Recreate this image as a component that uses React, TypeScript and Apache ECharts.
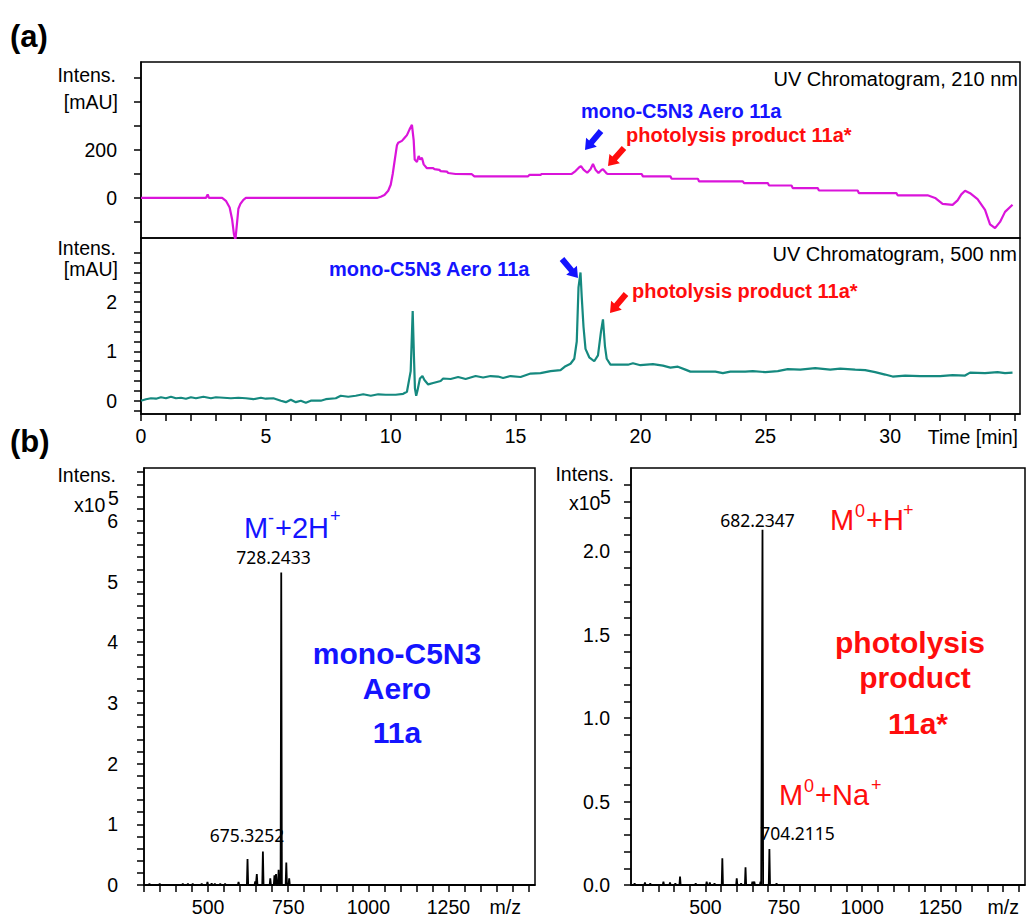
import React, { useEffect, useRef } from 'react';
import * as echarts from 'echarts';

const FONT = '"Liberation Sans", Arial, Helvetica, sans-serif';
const PEAKFONT = '"Noto Sans", "Open Sans", sans-serif';
const BLUE = '#1414ff';
const RED = '#ff0d0d';
const MAGENTA = '#da14da';
const TEAL = '#15897f';

// ---- UV chromatogram, 210 nm (time [min], intensity [mAU]) ----
const t210 = [0, 2.6, 2.67, 2.72, 3.25, 3.4, 3.55, 3.65, 3.72, 3.78, 3.84, 3.9, 3.98, 4.1, 4.2, 9.45, 9.6, 9.75, 9.9, 10.0, 10.08, 10.15, 10.25, 10.3, 10.45, 10.55, 10.65, 10.75, 10.85, 10.92, 10.96, 11.05, 11.12, 11.18, 11.25, 11.32, 11.45, 11.7, 11.75, 11.95, 12.0, 12.25, 12.3, 12.6, 13.25, 13.35, 15.5, 15.55, 16.0, 16.05, 17.25, 17.4, 17.55, 17.62, 17.72, 17.87, 18.0, 18.1, 18.2, 18.32, 18.45, 18.5, 18.65, 18.7, 20.05, 20.1, 21.2, 21.25, 22.3, 22.35, 24.1, 24.15, 25.1, 25.15, 26.05, 26.1, 27.1, 27.15, 28.7, 28.75, 30.25, 30.3, 31.5, 31.8, 32.1, 32.5, 32.7, 32.85, 33.0, 33.2, 33.5, 33.8, 34.0, 34.2, 34.4, 34.6, 34.9];
const v210 = [0, 0, 15, 0, 0, -12, -40, -90, -150, -175, -110, -45, -25, -8, 0, 0, 5, 12, 30, 55, 100, 150, 220, 230, 238, 250, 262, 285, 305, 240, 160, 150, 175, 160, 168, 140, 124, 124, 120, 117, 112, 110, 104, 100, 99, 90, 90, 96, 96, 100, 100, 112, 128, 133, 118, 105, 120, 142, 118, 104, 118, 120, 102, 100, 100, 90, 90, 80, 80, 69, 69, 62, 62, 52, 52, 41, 41, 31, 31, 20, 20, 11, 11, 0, -25, -29, -10, 15, 30, 20, -5, -50, -110, -126, -100, -58, -28];

// ---- UV chromatogram, 500 nm ----
const t500 = [0, 0.2, 0.4, 0.6, 0.8, 1.0, 1.2, 1.4, 1.6, 1.8, 2.0, 2.2, 2.5, 2.8, 3.0, 3.3, 3.6, 3.9, 4.2, 4.5, 4.8, 5.0, 5.3, 5.6, 5.8, 6.0, 6.2, 6.4, 6.6, 6.8, 7.2, 7.4, 7.8, 8.0, 8.3, 8.6, 8.9, 9.2, 9.5, 9.8, 10.2, 10.5, 10.65, 10.8, 10.88, 10.93, 10.97, 11.02, 11.07, 11.17, 11.27, 11.35, 11.5, 11.7, 12.0, 12.1, 12.4, 12.7, 13.0, 13.4, 13.7, 14.0, 14.3, 14.5, 14.8, 15.2, 15.6, 16.0, 16.4, 16.8, 17.0, 17.2, 17.35, 17.45, 17.52, 17.6, 17.65, 17.72, 17.8, 17.95, 18.15, 18.3, 18.42, 18.5, 18.58, 18.65, 18.8, 19.5, 19.7, 20.0, 20.5, 20.9, 21.2, 21.5, 21.8, 22.0, 23.0, 23.3, 23.6, 24.2, 24.5, 25.0, 25.5, 25.9, 26.4, 27.0, 27.6, 28.0, 28.6, 29.0, 29.4, 29.8, 30.1, 30.6, 31.2, 32.0, 32.5, 33.0, 33.2, 33.8, 34.3, 34.6, 34.9];
const v500 = [0.0, 0.03, 0.05, 0.04, 0.07, 0.05, 0.08, 0.05, 0.06, 0.04, 0.07, 0.05, 0.08, 0.05, 0.07, 0.06, 0.05, 0.06, 0.05, 0.03, 0.06, 0.04, 0.05, 0.0, -0.03, 0.02, -0.03, 0.0, -0.04, 0.0, 0.0, 0.03, 0.05, 0.1, 0.08, 0.1, 0.13, 0.1, 0.13, 0.12, 0.12, 0.14, 0.18, 0.6, 1.82, 0.9, 0.25, 0.1, 0.2, 0.45, 0.5, 0.42, 0.33, 0.36, 0.4, 0.45, 0.44, 0.48, 0.44, 0.5, 0.47, 0.5, 0.49, 0.46, 0.5, 0.48, 0.55, 0.56, 0.6, 0.62, 0.7, 0.75, 0.85, 1.2, 2.3, 2.6, 2.1, 1.5, 1.05, 0.88, 0.8, 0.92, 1.4, 1.65, 1.1, 0.85, 0.73, 0.73, 0.76, 0.72, 0.74, 0.71, 0.67, 0.69, 0.63, 0.59, 0.59, 0.56, 0.59, 0.59, 0.6, 0.58, 0.6, 0.64, 0.63, 0.66, 0.63, 0.65, 0.63, 0.62, 0.58, 0.53, 0.49, 0.51, 0.5, 0.5, 0.52, 0.51, 0.57, 0.56, 0.58, 0.56, 0.57];

// ---- Mass spectrum, mono-C5N3 Aero 11a (m/z, intensity x10^5) ----
const msA_mz = [317, 349, 421, 437, 452, 480, 498, 511, 521, 538, 553, 595, 623, 647, 652, 671, 694, 707, 712, 720, 728.2, 744, 753];
const msA_int = [0.02, 0.02, 0.02, 0.02, 0.02, 0.02, 0.05, 0.03, 0.02, 0.02, 0.02, 0.05, 0.43, 0.06, 0.18, 0.55, 0.11, 0.16, 0.18, 0.25, 5.15, 0.37, 0.11];

// ---- Mass spectrum, photolysis product 11a* ----
const msB_mz = [274, 307, 324, 366, 387, 404, 419, 469, 504, 514, 529, 554, 600, 614, 628, 650, 656, 676, 682.2, 704.2, 727];
const msB_int = [0.01, 0.015, 0.01, 0.02, 0.015, 0.01, 0.05, 0.01, 0.02, 0.015, 0.01, 0.16, 0.04, 0.01, 0.106, 0.02, 0.02, 0.02, 2.13, 0.216, 0.01];

// ---- axis ticks / labels ----
const timeTicks = Array.from({ length: 36 }, (_, i) => i);
const timeLabels = [0, 5, 10, 15, 20, 25, 30];
const uv210Ticks = [-100, 0, 100, 200, 300, 400, 500];
const uv210Labels = [0, 200];
const uv500Ticks = [-0.2, 0, 0.2, 0.4, 0.6, 0.8, 1, 1.2, 1.4, 1.6, 1.8, 2, 2.2, 2.4, 2.6, 2.8, 3];
const uv500Labels = [0, 1, 2];
const mzTicks = Array.from({ length: 25 }, (_, i) => 300 + i * 50);
const mzLabels = [500, 750, 1000, 1250];
const msATicks = Array.from({ length: 35 }, (_, i) => i / 5);
const msALabels = [0, 1, 2, 3, 4, 5, 6];
const msBTicks = Array.from({ length: 25 }, (_, i) => i / 10);
const msBLabels = [0, 0.5, 1, 1.5, 2];

function zipXY(xs: number[], ys: number[]) {
  return xs.map((x, i) => [x, ys[i]]);
}

function sticks(mz: number[], inten: number[], lo: number, hi: number) {
  const pts: number[][] = [[lo, 0]];
  mz.forEach((m, i) => {
    pts.push([m - 2, 0], [m, inten[i]], [m + 2, 0]);
  });
  pts.push([hi, 0]);
  return pts;
}

function txt(x: number, y: number, text: string, o: any = {}) {
  const align = o.align || 'left';
  return {
    type: 'text',
    x,
    y,
    silent: true,
    z: 100,
    style: {
      text,
      fill: o.color || '#000',
      fontSize: o.size || 19.5,
      fontWeight: o.weight || 'normal',
      fontFamily: o.family || FONT,
      align,
      textAlign: align,
      verticalAlign: 'middle',
      textVerticalAlign: 'middle',
    },
  };
}

function arrow(sx: number, sy: number, tx: number, ty: number, color: string) {
  const dx = tx - sx;
  const dy = ty - sy;
  const L = Math.sqrt(dx * dx + dy * dy);
  const ux = dx / L;
  const uy = dy / L;
  const nx = -uy;
  const ny = ux;
  const hl = 10;
  const hw = 7;
  const sw = 3;
  const bx = tx - ux * hl;
  const by = ty - uy * hl;
  return {
    type: 'polygon',
    silent: true,
    z: 100,
    shape: {
      points: [
        [sx + nx * sw, sy + ny * sw],
        [bx + nx * sw, by + ny * sw],
        [bx + nx * hw, by + ny * hw],
        [tx, ty],
        [bx - nx * hw, by - ny * hw],
        [bx - nx * sw, by - ny * sw],
        [sx - nx * sw, sy - ny * sw],
      ],
    },
    style: { fill: color },
  };
}

const lineStyleAxis = { color: '#000', width: 1.5 };

function xAxisDef(grid: number, min: number, max: number, ticks: number[], labels: number[], fmt?: (v: number) => string) {
  return {
    type: 'value',
    gridIndex: grid,
    min,
    max,
    axisLine: { show: true, onZero: false, lineStyle: lineStyleAxis },
    axisTick: { show: true, length: 7, customValues: ticks, lineStyle: lineStyleAxis },
    axisLabel: {
      show: true,
      customValues: labels,
      color: '#000',
      fontSize: 19.5,
      fontFamily: FONT,
      margin: 12,
      formatter: fmt || ((v: number) => String(v)),
    },
    splitLine: { show: false },
  };
}

function yAxisDef(grid: number, min: number, max: number, ticks: number[], labels: number[], margin: number, fmt?: (v: number) => string) {
  return {
    type: 'value',
    gridIndex: grid,
    min,
    max,
    axisLine: { show: true, onZero: false, lineStyle: lineStyleAxis },
    axisTick: { show: true, length: 7, customValues: ticks, lineStyle: lineStyleAxis },
    axisLabel: {
      show: true,
      customValues: labels,
      color: '#000',
      fontSize: 19.5,
      fontFamily: FONT,
      margin,
      formatter: fmt || ((v: number) => String(v)),
    },
    splitLine: { show: false },
  };
}

const gridBase = { show: true, borderColor: '#000', borderWidth: 1.5, backgroundColor: 'transparent', containLabel: false };

export default function App() {
  const ref = useRef<HTMLDivElement>(null);

  useEffect(() => {
    if (!ref.current) return;
    const chart = echarts.init(ref.current, undefined, { renderer: 'svg' });

    const graphic: any[] = [
      txt(10, 36, '(a)', { size: 31, weight: 'bold' }),
      txt(10, 441, '(b)', { size: 31, weight: 'bold' }),
      txt(1018, 79, 'UV Chromatogram, 210 nm', { align: 'right', size: 20 }),
      txt(1017, 254, 'UV Chromatogram, 500 nm', { align: 'right', size: 20 }),
      txt(116, 75, 'Intens.', { align: 'right' }),
      txt(118, 102, '[mAU]', { align: 'right' }),
      txt(116, 248, 'Intens.', { align: 'right' }),
      txt(118, 269, '[mAU]', { align: 'right' }),
      txt(1018, 437, 'Time [min]', { align: 'right' }),
      txt(581, 111, 'mono-C5N3 Aero 11a', { color: BLUE, size: 20, weight: 'bold' }),
      txt(626, 135, 'photolysis product 11a*', { color: RED, size: 20, weight: 'bold' }),
      txt(329, 269, 'mono-C5N3 Aero 11a', { color: BLUE, size: 20, weight: 'bold' }),
      txt(632, 291, 'photolysis product 11a*', { color: RED, size: 20, weight: 'bold' }),
      arrow(601, 131, 585, 150, BLUE),
      arrow(624, 148, 608, 166, RED),
      arrow(562, 259, 578, 278, BLUE),
      arrow(626, 294, 610, 313, RED),
      // MS left
      txt(116, 475, 'Intens.', { align: 'right' }),
      txt(74, 505, 'x10'),
      txt(108, 498, '5'),
      txt(244, 528, 'M', { color: BLUE, size: 29 }),
      txt(268, 518, '-', { color: BLUE, size: 18 }),
      txt(275, 528, '+2H', { color: BLUE, size: 29 }),
      txt(330, 516, '+', { color: BLUE, size: 18 }),
      txt(273.5, 557, '728.2433', { align: 'center', size: 17.5, family: PEAKFONT }),
      txt(397, 653, 'mono-C5N3', { align: 'center', color: BLUE, size: 30, weight: 'bold' }),
      txt(397, 688, 'Aero', { align: 'center', color: BLUE, size: 30, weight: 'bold' }),
      txt(397, 732, '11a', { align: 'center', color: BLUE, size: 30, weight: 'bold' }),
      txt(247, 835, '675.3252', { align: 'center', size: 17.5, family: PEAKFONT }),
      txt(521, 907, 'm/z', { align: 'right' }),
      // MS right
      txt(614, 474, 'Intens.', { align: 'right' }),
      txt(569, 503, 'x10'),
      txt(600, 497, '5'),
      txt(757.5, 520, '682.2347', { align: 'center', size: 17.5, family: PEAKFONT }),
      txt(830, 520, 'M', { color: RED, size: 29 }),
      txt(855, 511, '0', { color: RED, size: 18 }),
      txt(866, 520, '+H', { color: RED, size: 29 }),
      txt(903, 510, '+', { color: RED, size: 18 }),
      txt(910, 642, 'photolysis', { align: 'center', color: RED, size: 30, weight: 'bold' }),
      txt(915, 677, 'product', { align: 'center', color: RED, size: 30, weight: 'bold' }),
      txt(918, 723, '11a*', { align: 'center', color: RED, size: 30, weight: 'bold' }),
      txt(779, 795, 'M', { color: RED, size: 29 }),
      txt(804, 786, '0', { color: RED, size: 18 }),
      txt(815, 795, '+Na', { color: RED, size: 29 }),
      txt(871, 785, '+', { color: RED, size: 18 }),
      txt(797.5, 832.5, '704.2115', { align: 'center', size: 17.5, family: PEAKFONT }),
      txt(1019, 907, 'm/z', { align: 'right' }),
    ];

    const option: any = {
      animation: false,
      backgroundColor: '#fff',
      grid: [
        { ...gridBase, left: 141, top: 62, width: 879, height: 176 },
        { ...gridBase, left: 141, top: 238, width: 879, height: 176 },
        { ...gridBase, left: 144, top: 468, width: 391, height: 417 },
        { ...gridBase, left: 631, top: 468, width: 394, height: 417 },
      ],
      xAxis: [
        { type: 'value', gridIndex: 0, min: 0, max: 35.2, show: false },
        xAxisDef(1, 0, 35.2, timeTicks, timeLabels),
        xAxisDef(2, 300, 1520, mzTicks, mzLabels),
        xAxisDef(3, 262.5, 1520, mzTicks, mzLabels),
      ],
      yAxis: [
        yAxisDef(0, -167, 567, uv210Ticks, uv210Labels, 24),
        yAxisDef(1, -0.27, 3.3, uv500Ticks, uv500Labels, 24),
        yAxisDef(2, 0, 6.87, msATicks, msALabels, 26),
        yAxisDef(3, 0, 2.5, msBTicks, msBLabels, 21, (v: number) => v.toFixed(1)),
      ],
      series: [
        {
          type: 'line', xAxisIndex: 0, yAxisIndex: 0, data: zipXY(t210, v210),
          symbol: 'none', silent: true, lineStyle: { color: MAGENTA, width: 2.2 },
        },
        {
          type: 'line', xAxisIndex: 1, yAxisIndex: 1, data: zipXY(t500, v500),
          symbol: 'none', silent: true, lineStyle: { color: TEAL, width: 2.2 },
        },
        {
          type: 'line', xAxisIndex: 2, yAxisIndex: 2, data: sticks(msA_mz, msA_int, 300, 1520),
          symbol: 'none', silent: true, lineStyle: { color: '#000', width: 1.8 },
        },
        {
          type: 'line', xAxisIndex: 3, yAxisIndex: 3, data: sticks(msB_mz, msB_int, 262.5, 1520),
          symbol: 'none', silent: true, lineStyle: { color: '#000', width: 1.8 },
        },
      ],
      graphic,
    };

    chart.setOption(option);
    return () => {
      chart.dispose();
    };
  }, []);

  return (
    <div
      ref={ref}
      style={{ position: 'fixed', left: 0, top: 0, width: 1027, height: 918, background: '#fff' }}
    />
  );
}
